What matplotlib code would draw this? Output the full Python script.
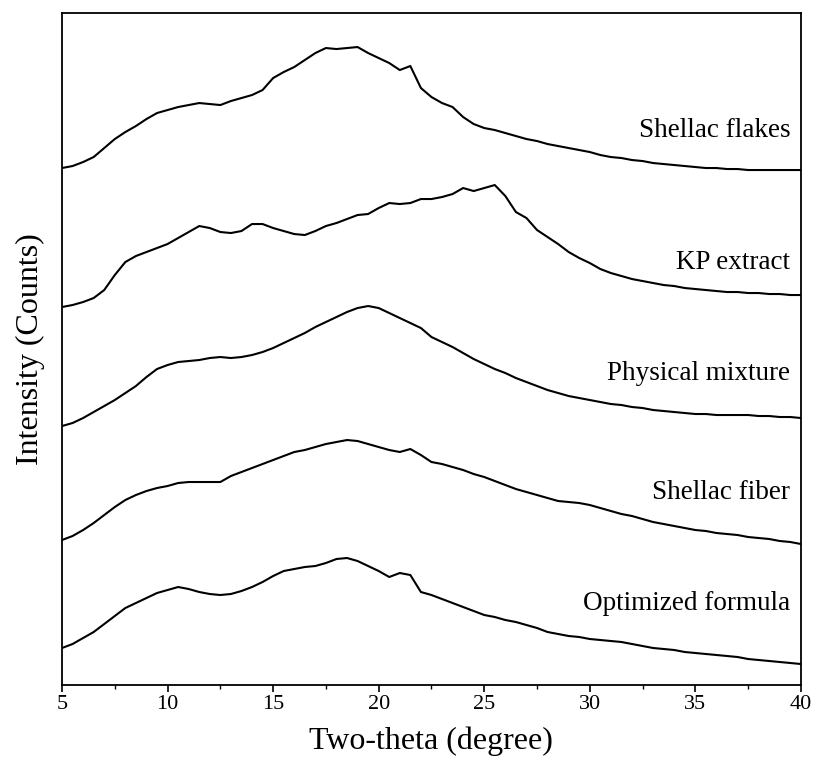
import numpy as np
import matplotlib
matplotlib.use("Agg")
import matplotlib.pyplot as plt
from matplotlib.ticker import MultipleLocator

plt.rcParams['font.family'] = ['Liberation Serif', 'DejaVu Serif']

# two-theta grid (degree), 0.5 step
two_theta = np.arange(5.0, 40.01, 0.5)

# intensities (arbitrary counts, traces already stacked with offsets)
shellac_flakes = [517, 519, 523, 528, 537, 546, 553, 559, 566, 572,
                  575, 578, 580, 582, 581, 580, 584, 587, 590, 595,
                  607, 613, 618, 625, 632, 637, 636, 637, 638, 632,
                  627, 622, 615, 619, 597, 588, 582, 578, 568, 561,
                  557, 555, 552, 549, 546, 544, 541, 539, 537, 535,
                  533, 530, 528, 527, 525, 524, 522, 521, 520, 519,
                  518, 517, 517, 516, 516, 515, 515, 515, 515, 515, 515]
kp_extract = [378, 380, 383, 387, 395, 410, 423, 429, 433, 437,
              441, 447, 453, 459, 457, 453, 452, 454, 461, 461,
              457, 454, 451, 450, 454, 459, 462, 466, 470, 471,
              477, 482, 481, 482, 486, 486, 488, 491, 497, 494,
              497, 500, 489, 473, 467, 455, 448, 441, 433, 427,
              422, 416, 412, 409, 406, 404, 402, 400, 399, 397,
              396, 395, 394, 393, 393, 392, 392, 391, 391, 390, 390]
physical_mixture = [259, 262, 267, 273, 279, 285, 292, 299, 308, 316,
                    320, 323, 324, 325, 327, 328, 327, 328, 330, 333,
                    337, 342, 347, 352, 358, 363, 368, 373, 377, 379,
                    377, 372, 367, 362, 357, 348, 343, 338, 332, 326,
                    321, 316, 312, 307, 303, 299, 295, 292, 289, 287,
                    285, 283, 281, 280, 278, 277, 275, 274, 273, 272,
                    271, 271, 270, 270, 270, 270, 269, 269, 268, 268, 267]
shellac_fiber = [145, 149, 155, 162, 170, 178, 185, 190, 194, 197,
                 199, 202, 203, 203, 203, 203, 209, 213, 217, 221,
                 225, 229, 233, 235, 238, 241, 243, 245, 244, 241,
                 238, 235, 233, 236, 230, 223, 221, 218, 215, 211,
                 208, 204, 200, 196, 193, 190, 187, 184, 183, 182,
                 180, 177, 174, 171, 169, 166, 163, 161, 159, 157,
                 155, 154, 152, 151, 150, 148, 147, 146, 144, 143, 141]
optimized_formula = [37, 41, 47, 53, 61, 69, 77, 82, 87, 92,
                     95, 98, 96, 93, 91, 90, 91, 94, 98, 103,
                     109, 114, 116, 118, 119, 122, 126, 127, 124, 119,
                     114, 108, 112, 110, 93, 90, 86, 82, 78, 74,
                     70, 68, 65, 63, 60, 57, 53, 51, 49, 48,
                     46, 45, 44, 43, 41, 39, 37, 36, 35, 33,
                     32, 31, 30, 29, 28, 26, 25, 24, 23, 22, 21]

series = [shellac_flakes, kp_extract, physical_mixture, shellac_fiber, optimized_formula]
labels = ['Shellac flakes', 'KP extract', 'Physical mixture', 'Shellac fiber', 'Optimized formula']
label_y = [555, 423, 312, 193, 82]

fig = plt.figure(figsize=(8.16, 7.58), dpi=100)
ax = fig.add_axes([0.076, 0.0963, 0.9055, 0.8865])

for vals, name, ly in zip(series, labels, label_y):
    ax.plot(two_theta, vals, color='black', linewidth=1.5)
    ax.text(39.5, ly, name, ha='right', va='center', fontsize=19.5)

ax.set_xlim(5, 40)
ax.set_ylim(0, 672)
ax.xaxis.set_major_locator(MultipleLocator(5))
ax.xaxis.set_minor_locator(MultipleLocator(2.5))
ax.tick_params(axis='x', which='major', direction='out', length=5, width=1.2,
               labelsize=16, pad=2)
ax.tick_params(axis='x', which='minor', direction='out', length=3, width=1.0)
ax.set_yticks([])
for sp in ax.spines.values():
    sp.set_linewidth(1.3)

fig.text(431 / 816, 2 / 758, 'Two-theta (degree)', ha='center', va='bottom', fontsize=23)
ax.set_ylabel('Intensity (Counts)', fontsize=23, labelpad=12)

fig.savefig('out.png', dpi=100)
